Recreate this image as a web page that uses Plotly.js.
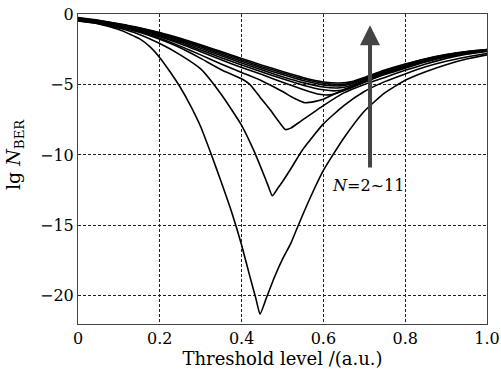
<!DOCTYPE html>
<html>
<head>
<meta charset="utf-8">
<script src="https://cdn.plot.ly/plotly-3.0.1.min.js"></script>
<style>html,body{margin:0;padding:0;background:#fff;}#chart{width:501px;height:377px;}</style>
</head>
<body>
<div id="chart"></div>
<script>
// Threshold level (a.u.) and lg N_BER for N = 2 ... 11
const x2 = [0,0.05,0.1,0.15,0.175,0.2,0.225,0.25,0.275,0.3,0.325,0.35,0.375,0.4,0.42,0.435,0.445,0.46,0.48,0.5,0.52,0.54,0.57,0.6,0.65,0.7,0.75,0.8,0.85,0.9,0.95,1.0];
const y2 = [-0.5,-0.7,-1.1,-1.75,-2.3,-3.1,-4.1,-5.2,-6.5,-8.0,-9.9,-11.9,-14.0,-16.4,-18.6,-20.2,-21.3,-20.2,-18.7,-17.4,-16.3,-14.9,-12.9,-11.1,-8.8,-6.9,-5.6,-4.7,-4.1,-3.6,-3.2,-2.9];

const x3 = [0,0.05,0.1,0.15,0.2,0.25,0.3,0.35,0.4,0.43,0.45,0.465,0.475,0.49,0.5,0.52,0.55,0.6,0.65,0.7,0.75,0.8,0.85,0.9,0.95,1.0];
const y3 = [-0.48,-0.68,-1.0,-1.45,-2.1,-2.9,-3.9,-5.7,-7.9,-9.7,-11.1,-12.2,-12.9,-12.3,-11.9,-11.0,-9.6,-7.8,-6.5,-5.5,-4.8,-4.25,-3.75,-3.35,-3.05,-2.8];

const x4 = [0,0.05,0.1,0.15,0.2,0.25,0.3,0.35,0.4,0.42,0.445,0.47,0.49,0.507,0.52,0.545,0.6,0.65,0.7,0.75,0.8,0.85,0.9,0.95,1.0];
const y4 = [-0.45,-0.63,-0.93,-1.3,-1.8,-2.4,-3.15,-3.95,-4.6,-5.0,-5.9,-6.8,-7.6,-8.2,-8.1,-7.6,-6.5,-5.6,-5.0,-4.5,-4.0,-3.55,-3.15,-2.85,-2.65];

const x5 = [0,0.05,0.1,0.15,0.2,0.25,0.3,0.35,0.4,0.45,0.5,0.53,0.555,0.58,0.6,0.65,0.7,0.75,0.8,0.85,0.9,0.95,1.0];
const y5 = [-0.42,-0.6,-0.88,-1.24,-1.72,-2.28,-2.9,-3.55,-4.15,-4.75,-5.5,-6.0,-6.3,-6.2,-6.05,-5.35,-4.8,-4.3,-3.85,-3.4,-3.05,-2.8,-2.62];

const x6 = [0,0.05,0.1,0.15,0.2,0.25,0.3,0.35,0.4,0.45,0.5,0.55,0.59,0.62,0.65,0.7,0.75,0.8,0.85,0.9,0.95,1.0];
const y6 = [-0.38,-0.57,-0.84,-1.18,-1.62,-2.12,-2.68,-3.25,-3.8,-4.3,-4.85,-5.35,-5.7,-5.72,-5.45,-4.85,-4.25,-3.78,-3.35,-3.02,-2.78,-2.6];

const x7 = [0,0.05,0.1,0.15,0.2,0.25,0.3,0.35,0.4,0.45,0.5,0.55,0.6,0.63,0.66,0.7,0.75,0.8,0.85,0.9,0.95,1.0];
const y7 = [-0.35,-0.54,-0.8,-1.12,-1.54,-2.02,-2.55,-3.1,-3.62,-4.12,-4.6,-5.05,-5.38,-5.45,-5.3,-4.78,-4.18,-3.72,-3.3,-2.98,-2.74,-2.58];

const x8 = [0,0.05,0.1,0.15,0.2,0.25,0.3,0.35,0.4,0.45,0.5,0.55,0.6,0.635,0.67,0.7,0.75,0.8,0.85,0.9,0.95,1.0];
const y8 = [-0.32,-0.51,-0.76,-1.07,-1.47,-1.93,-2.43,-2.96,-3.47,-3.97,-4.45,-4.87,-5.18,-5.25,-5.05,-4.7,-4.12,-3.67,-3.26,-2.95,-2.72,-2.56];

const x9 = [0,0.05,0.1,0.15,0.2,0.25,0.3,0.35,0.4,0.45,0.5,0.55,0.6,0.64,0.67,0.7,0.75,0.8,0.85,0.9,0.95,1.0];
const y9 = [-0.3,-0.49,-0.73,-1.03,-1.41,-1.86,-2.33,-2.85,-3.35,-3.85,-4.3,-4.72,-5.03,-5.1,-4.95,-4.62,-4.06,-3.62,-3.22,-2.92,-2.7,-2.55];

const x10 = [0,0.05,0.1,0.15,0.2,0.25,0.3,0.35,0.4,0.45,0.5,0.55,0.6,0.64,0.67,0.7,0.75,0.8,0.85,0.9,0.95,1.0];
const y10 = [-0.28,-0.47,-0.71,-1.0,-1.36,-1.79,-2.25,-2.75,-3.25,-3.74,-4.18,-4.6,-4.92,-5.0,-4.88,-4.56,-4.02,-3.58,-3.2,-2.9,-2.68,-2.53];

const x11 = [0,0.05,0.1,0.15,0.2,0.25,0.3,0.35,0.4,0.45,0.5,0.55,0.6,0.64,0.67,0.7,0.75,0.8,0.85,0.9,0.95,1.0];
const y11 = [-0.26,-0.45,-0.69,-0.97,-1.32,-1.73,-2.18,-2.67,-3.15,-3.63,-4.08,-4.5,-4.82,-4.9,-4.8,-4.5,-3.98,-3.55,-3.17,-2.88,-2.66,-2.52];

const xTickVals = [0,0.2,0.4,0.6,0.8,1.0];
const xTickText = ['0','0.2','0.4','0.6','0.8','1.0'];
const yTickVals = [0,-5,-10,-15,-20];
const yTickText = ['0','\u22125','\u221210','\u221215','\u221220'];

const seriesX = [x2,x3,x4,x5,x6,x7,x8,x9,x10,x11];
const seriesY = [y2,y3,y4,y5,y6,y7,y8,y9,y10,y11];

const traces = seriesX.map((xs, i) => ({
  x: xs, y: seriesY[i], type: 'scatter', mode: 'lines',
  line: {color: '#000', width: 1.6, shape: 'spline', smoothing: 0.5},
  hoverinfo: 'skip', showlegend: false
}));

const serif = "'DejaVu Serif', 'Liberation Serif', serif";

const layout = {
  width: 501, height: 377,
  margin: {l: 78, r: 14, t: 14, b: 53},
  paper_bgcolor: '#fff', plot_bgcolor: '#fff',
  font: {family: serif, size: 16, color: '#000'},
  showlegend: false,
  xaxis: {
    range: [0, 1], tickvals: xTickVals, ticktext: xTickText,
    showgrid: true, gridcolor: '#222', gridwidth: 1, griddash: '3px,2px',
    zeroline: false, showline: true, mirror: true, linecolor: '#444', linewidth: 1,
    ticks: '', tickfont: {family: serif, size: 16, color: '#000'},
    title: {text: 'Threshold level /(a.u.)', font: {family: serif, size: 18, color: '#000'}, standoff: 4}
  },
  yaxis: {
    range: [-22, 0], tickvals: yTickVals, ticktext: yTickText,
    showgrid: true, gridcolor: '#222', gridwidth: 1, griddash: '3px,2px',
    zeroline: false, showline: true, mirror: true, linecolor: '#444', linewidth: 1,
    ticks: '', tickfont: {family: serif, size: 16, color: '#000'}
  },
  annotations: [
    {
      xref: 'paper', yref: 'paper', x: 0, y: 0.545, xshift: -64,
      xanchor: 'center', yanchor: 'middle', textangle: -90, showarrow: false,
      text: 'lg <i>N</i><sub>BER</sub>', font: {family: serif, size: 19, color: '#000'}
    },
    {
      x: 0.714, y: -0.8, ax: 0.714, ay: -11.0, xref: 'x', yref: 'y', axref: 'x', ayref: 'y',
      text: '', showarrow: true, arrowhead: 2, arrowsize: 1, arrowwidth: 4, arrowcolor: '#444'
    },
    {
      x: 0.71, y: -12.2, xref: 'x', yref: 'y', showarrow: false,
      text: '<i>N</i>=2~11', font: {family: serif, size: 16, color: '#000'}
    }
  ]
};

Plotly.newPlot('chart', traces, layout, {displayModeBar: false, staticPlot: true});
</script>
</body>
</html>
